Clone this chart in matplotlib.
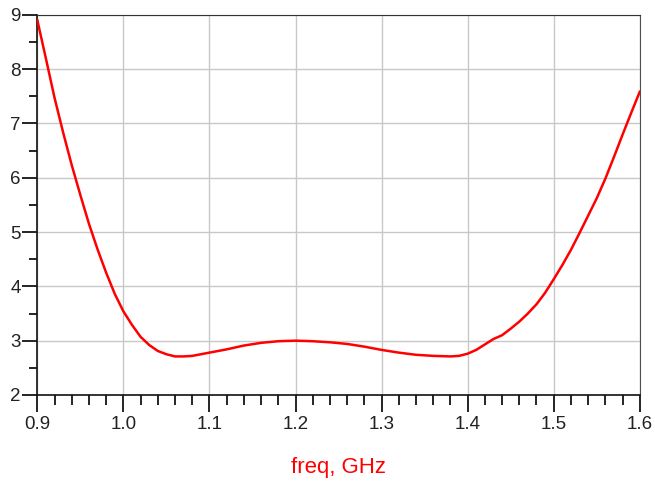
import matplotlib
matplotlib.use("Agg")
import matplotlib.pyplot as plt
from matplotlib.ticker import MultipleLocator

# values
freq = [0.90, 0.91, 0.92, 0.93, 0.94, 0.95, 0.96, 0.97, 0.98, 0.99,
        1.00, 1.01, 1.02, 1.03, 1.04, 1.05, 1.06, 1.07, 1.08, 1.09,
        1.10, 1.12, 1.14, 1.16, 1.18, 1.20, 1.22, 1.24, 1.26, 1.28,
        1.30, 1.32, 1.34, 1.36, 1.38, 1.39, 1.40, 1.41, 1.42, 1.43,
        1.44, 1.45, 1.46, 1.47, 1.48, 1.49, 1.50, 1.51, 1.52, 1.53,
        1.54, 1.55, 1.56, 1.57, 1.58, 1.59, 1.60]
values = [8.90, 8.19, 7.47, 6.83, 6.23, 5.68, 5.15, 4.68, 4.25, 3.86,
          3.54, 3.29, 3.07, 2.92, 2.81, 2.75, 2.71, 2.71, 2.72, 2.75,
          2.78, 2.84, 2.91, 2.96, 2.99, 3.00, 2.99, 2.97, 2.94, 2.89,
          2.83, 2.78, 2.74, 2.72, 2.71, 2.72, 2.76, 2.83, 2.93, 3.03,
          3.10, 3.22, 3.35, 3.50, 3.67, 3.88, 4.13, 4.39, 4.67, 4.98,
          5.30, 5.62, 5.98, 6.38, 6.79, 7.19, 7.58]
x_ticks = [0.9, 1.0, 1.1, 1.2, 1.3, 1.4, 1.5, 1.6]
y_ticks = [2, 3, 4, 5, 6, 7, 8, 9]

plt.rcParams['font.family'] = ['Liberation Sans', 'DejaVu Sans']

fig = plt.figure(figsize=(6.55, 4.83), dpi=100)
ax = fig.add_axes([0.0570, 0.1822, 0.9197, 0.7874])

ax.plot(freq, values, color='#ff0000', linewidth=1.8, zorder=3)

ax.set_xlim(0.9, 1.6)
ax.set_ylim(2, 9)
ax.set_xticks(x_ticks)
ax.set_xticklabels(['%.1f' % t for t in x_ticks])
ax.set_yticks(y_ticks)
ax.xaxis.set_minor_locator(MultipleLocator(0.02))
ax.yaxis.set_minor_locator(MultipleLocator(0.5))

ax.grid(True, which='major', color='#c8c8c8', linewidth=1.0)
ax.set_axisbelow(True)

ax.tick_params(axis='x', which='major', direction='out', length=12, width=1.2,
               pad=3, labelsize=13.5, labelcolor='#222222')
ax.tick_params(axis='x', which='minor', direction='out', length=7, width=1.2)
ax.tick_params(axis='y', which='major', direction='out', length=11, width=1.2,
               pad=1, labelsize=13.5, labelcolor='#222222')
ax.tick_params(axis='y', which='minor', direction='out', length=6, width=1.2)

for side in ['left', 'bottom']:
    ax.spines[side].set_color('#111111')
    ax.spines[side].set_linewidth(1.2)
ax.spines['top'].set_color('#333333')
ax.spines['right'].set_color('#505050')

ax.set_xlabel('freq, GHz', color='#ff0000', fontsize=16, va='center')
ax.xaxis.set_label_coords(0.5, -0.19)

plt.savefig('out.png', dpi=100)
